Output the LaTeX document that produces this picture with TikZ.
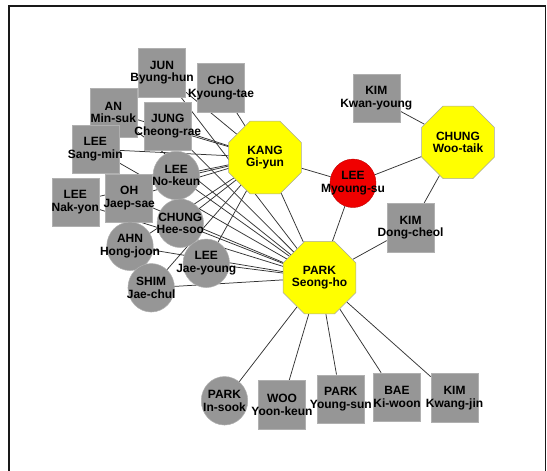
\documentclass[tikz,border=0pt]{standalone}
\usepackage{fontspec}
\setmainfont{Liberation Sans}
\usetikzlibrary{shapes.geometric}
\pgfdeclarelayer{edges}
\pgfsetlayers{edges,main}
\definecolor{nodegray}{RGB}{150,150,150}
\definecolor{octyellow}{RGB}{255,255,0}
\definecolor{hubred}{RGB}{240,0,0}
\begin{document}
\begin{tikzpicture}[x=1pt,y=-1pt,
  sq/.style={rectangle, fill=nodegray, draw=nodegray!75!white, line width=0.5pt,
    minimum width=47pt, minimum height=48.5pt, inner sep=0pt},
  rnd/.style={ellipse, fill=nodegray, draw=nodegray!75!white, line width=0.5pt,
    minimum width=46.5pt, minimum height=48.5pt, inner sep=0pt},
  hub/.style={regular polygon, regular polygon sides=8, fill=octyellow,
    draw=black!35, line width=0.5pt, minimum size=78.5pt, inner sep=0pt},
  redhub/.style={ellipse, fill=hubred, draw=hubred!80!black, line width=0.4pt,
    minimum width=46pt, minimum height=48.5pt, inner sep=0pt},
  lbl/.style={font=\bfseries\fontsize{12}{12.7}\selectfont, align=center,
    inner sep=0pt, text=black},
  tie/.style={draw=black!80, line width=0.75pt}]

\useasboundingbox (0,0) rectangle (547,471);

% frame
\draw[line width=1.3pt, black!90] (9,480) -- (9,6) -- (545.5,6) -- (545.5,480);

% hubs
\node[hub] (kang) at (265,157.5) {};
\node[hub] (chungw) at (458,142.3) {};
\node[hub] (park) at (319.5,277.7) {};
\node[redhub] (leems) at (353,183.3) {};

% square actors
\node[sq] (jun) at (162,72.5) {};
\node[sq] (cho) at (221,87.8) {};
\node[sq] (an) at (113.3,112.5) {};
\node[sq] (leesm) at (95.3,149.2) {};
\node[sq] (jung) at (167.8,126.3) {};
\node[sq] (leeny) at (75.3,202) {};
\node[sq] (oh) at (129.2,198) {};
\node[sq] (kimky) at (376.3,98.3) {};
\node[sq] (kimdc) at (410.5,227.5) {};
\node[sq] (woo) at (282,404.7) {};
\node[sq] (parkys) at (340.8,399) {};
\node[sq] (bae) at (397,397.2) {};
\node[sq] (kimkj) at (454.5,397.8) {};

% round actors
\node[rnd] (leenk) at (176.3,175.5) {};
\node[rnd] (chunghs) at (180.3,223.3) {};
\node[rnd] (ahn) at (130,246.3) {};
\node[rnd] (shim) at (151.2,287.8) {};
\node[rnd] (leejy) at (206.3,263.3) {};
\node[rnd] (parkis) at (224.5,400.8) {};

% names
\node[lbl] at (kang) {KANG\\Gi-yun};
\node[lbl] at (chungw) {CHUNG\\Woo-taik};
\node[lbl] at (park) {PARK\\Seong-ho};
\node[lbl] at (leems) {LEE\\Myoung-su};
\node[lbl] at (jun) {JUN\\Byung-hun};
\node[lbl] at (cho) {CHO\\Kyoung-tae};
\node[lbl] at (an) {AN\\Min-suk};
\node[lbl] at (leesm) {LEE\\Sang-min};
\node[lbl] at (jung) {JUNG\\Cheong-rae};
\node[lbl] at (leeny) {LEE\\Nak-yon};
\node[lbl] at (oh) {OH\\Jaep-sae};
\node[lbl] at (kimky) {KIM\\Kwan-young};
\node[lbl] at (kimdc) {KIM\\Dong-cheol};
\node[lbl] at (woo) {WOO\\Yoon-keun};
\node[lbl] at (parkys) {PARK\\Young-sun};
\node[lbl] at (bae) {BAE\\Ki-woon};
\node[lbl] at (kimkj) {KIM\\Kwang-jin};
\node[lbl] at (leenk) {LEE\\No-keun};
\node[lbl] at (chunghs) {CHUNG\\Hee-soo};
\node[lbl] at (ahn) {AHN\\Hong-joon};
\node[lbl] at (shim) {SHIM\\Jae-chul};
\node[lbl] at (leejy) {LEE\\Jae-young};
\node[lbl] at (parkis) {PARK\\In-sook};

% ties, kept underneath the actors
\begin{pgfonlayer}{edges}
  \foreach \a in {jun,an,jung,leesm,leenk,leeny,oh,chunghs,ahn,leejy,shim}{
    \draw[tie] (\a.center) -- (kang.center);
    \draw[tie] (\a.center) -- (park.center);
  }
  \draw[tie] (cho) -- (kang);
  \draw[tie] (kang) -- (leems);
  \draw[tie] (kang) -- (park);
  \draw[tie] (leems) -- (park);
  \draw[tie] (leems) -- (chungw);
  \draw[tie] (chungw) -- (kimky);
  \draw[tie] (chungw) -- (kimdc);
  \draw[tie] (kimdc) -- (park);
  \foreach \b in {parkis,woo,parkys,bae,kimkj}{
    \draw[tie] (park) -- (\b);
  }
\end{pgfonlayer}
\end{tikzpicture}
\end{document}
